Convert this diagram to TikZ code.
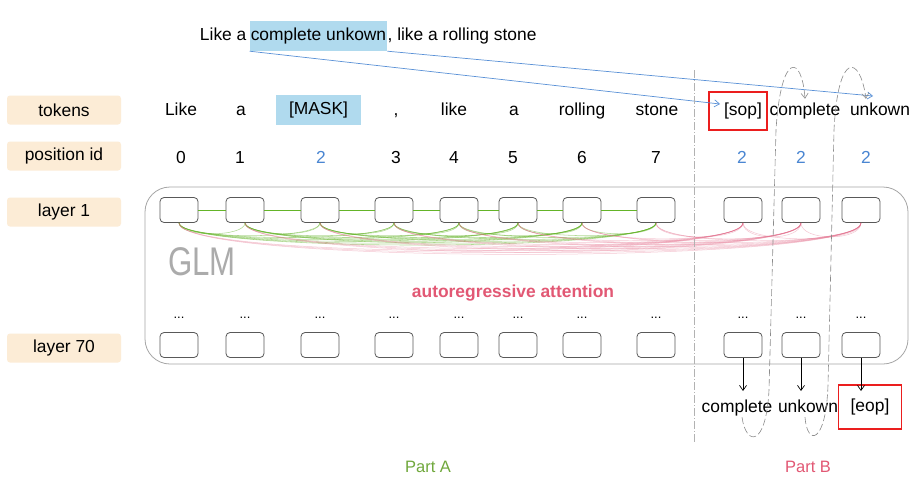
\documentclass[tikz,border=0pt]{standalone}
\usepackage{fontspec}
\setmainfont{Liberation Sans}
\usetikzlibrary{arrows.meta, positioning}

\definecolor{lblfill}{RGB}{252,236,214}
\definecolor{hlblue}{RGB}{176,218,238}
\definecolor{posblue}{RGB}{74,134,210}
\definecolor{redbox}{RGB}{235,30,30}
\definecolor{attgreen}{RGB}{100,180,40}
\definecolor{attpink}{RGB}{228,110,140}
\definecolor{txtpink}{RGB}{226,88,116}
\definecolor{partgreen}{RGB}{112,168,60}
\definecolor{linkblue}{RGB}{90,145,215}

\begin{document}
\begin{tikzpicture}[
        x=1pt, y=-1pt,
        font=\fontsize{17.4}{20}\selectfont,
        lbl/.style={rectangle, rounded corners=3pt, fill=lblfill, minimum width=114pt, minimum height=29pt, inner sep=0pt},
        tok/.style={inner sep=1pt, text height=12.5pt, text depth=3.5pt},
        cell/.style={rectangle, rounded corners=4pt, draw=black!65, line width=0.8pt, fill=white, minimum width=38pt, minimum height=25pt, inner sep=0pt},
        dots/.style={inner sep=0pt, font=\fontsize{13}{13}\selectfont},
        gline/.style={attgreen, line width=1pt},
        gatt/.style={attgreen, line width=0.55pt, opacity=0.5},
        patt/.style={attpink, line width=0.5pt, opacity=0.38},
        link/.style={linkblue, line width=0.7pt, -{Straight Barb[length=5pt, width=7pt]}},
        loopline/.style={black!45, line width=0.6pt, dash pattern=on 7pt off 3pt, -{Straight Barb[length=5pt, width=7pt]}},
        outarrow/.style={black, line width=0.7pt, -{Straight Barb[length=5pt, width=7pt]}}
    ]
        \path[fill=white, use as bounding box] (0,0) rectangle (915,488);

        % Row labels
        \node[lbl] (ltok) at (64,110) {tokens};
        \node[lbl] (lpos) at (64,156) {position id};
        \node[lbl] (lone) at (64,212) {layer 1};
        \node[lbl] (lsev) at (64,348) {layer 70};

        % Sentence on top
        \node[tok, fill=hlblue, inner xsep=1pt, minimum height=30pt] (shl) at (318.5,36) {complete unkown};
        \node[tok, left=2pt of shl] (spre) {Like a};
        \node[tok, right=-1pt of shl] (ssuf) {, like a rolling stone};

        % Tokens
        \foreach \n/\x/\w in {1/181/Like, 2/241/a, 5/454/like, 6/514/a, 7/582/rolling, 8/657/stone, 10/805/complete, 11/880/unkown}
            \node[tok] (t\n) at (\x,111) {\w};
        \node[tok] (t4) at (396,111) {,};
        \node[tok, fill=hlblue, minimum width=85pt, minimum height=30pt] (t3) at (318.5,110) {[MASK]};
        \node[draw=redbox, line width=1.2pt, minimum width=58pt, minimum height=38pt, inner sep=0pt] (sopbox) at (738,111) {};
        \node[tok] (t9) at (743,111) {[sop]};

        % Position ids
        \foreach \n/\x/\v in {1/181/0, 2/240/1, 4/396/3, 5/454/4, 6/513/5, 7/582/6, 8/656/7}
            \node[tok] (p\n) at (\x,159) {\v};
        \foreach \n/\x in {3/321, 9/742, 10/801, 11/866}
            \node[tok, text=posblue] (p\n) at (\x,159) {2};

        % GLM block
        \node[draw=black!35, line width=0.8pt, rounded corners=25pt, minimum width=763pt, minimum height=177pt] (glm) at (526.5,275.5) {};
        \node[text=black!33, font=\fontsize{40}{42}\selectfont] (glmlbl) at (202,262) {\scalebox{0.78}[1]{GLM}};
        \node[text=txtpink, font=\fontsize{17.4}{20}\selectfont\bfseries] (arattn) at (513,293) {autoregressive attention};

        % Layer cells
        \foreach \i/\x in {1/179, 2/245, 3/320, 4/394, 5/459, 6/518, 7/582, 8/656, 9/743, 10/801, 11/861} {
            \node[cell] (a\i) at (\x,210) {};
            \node[cell] (b\i) at (\x,345) {};
            \node[dots] (d\i) at (\x,318) {...};
        }

        % Part A: bidirectional
        \foreach \i [count=\j from 2] in {1,...,7}
            \draw[gline] (a\i) -- (a\j);
        \foreach \i in {1,...,7} {
            \pgfmathtruncatemacro\nxt{\i+1}
            \foreach \j in {\nxt,...,8} {
                \pgfmathsetmacro\dd{12+2.5*(\j-\i)}
                \draw[gatt] (a\i.south) .. controls +(0,\dd) and +(0,\dd) .. (a\j.south);
            }
        }
        % Part B: autoregressive
        \foreach \k in {9,10,11} {
            \pgfmathtruncatemacro\lst{\k-1}
            \foreach \j in {1,...,\lst} {
                \pgfmathsetmacro\dd{16+2.6*(\k-\j)}
                \draw[patt] (a\k.south) .. controls +(0,\dd) and +(0,\dd) .. (a\j.south);
            }
        }

        % Outputs
        \coordinate (outy) at (0,391);
        \node[tok] (oc) at (737,408) {complete};
        \node[tok] (ou) at (808,408) {unkown};
        \node[tok, draw=redbox, line width=1.2pt, minimum width=63pt, minimum height=44pt] (eop) at (870,407) {[eop]};
        \foreach \i in {9,10,11}
            \draw[outarrow] (b\i.south) -- (b\i.south |- outy);

        % Span links and feedback loops
        \coordinate (sopin) at (720,104);
        \coordinate (unkin) at (873,96);
        \draw[link] (shl.south west) -- (sopin);
        \draw[link] (shl.south east) -- (unkin);
        \draw[loopline] ([xshift=5pt]oc.south) .. controls (746,446) and (766,448) .. (769,390) -- (776,130) .. controls (781,50) and (802,55) .. ([yshift=3pt]t10.north);
        \draw[loopline] ([xshift=-3pt]ou.south) .. controls (807,446) and (826,445) .. (828,385) -- (834,130) .. controls (838,50) and (860,55) .. ([xshift=-14pt, yshift=3pt]t11.north);

        % Separator
        \coordinate (septop) at (694,70);
        \coordinate (sepbot) at (694,443);
        \draw[black!30, line width=0.6pt, dash pattern=on 8pt off 2pt on 1pt off 2pt] (septop) -- (sepbot);

        % Parts
        \node[text=partgreen, font=\fontsize{16.5}{18}\selectfont] (parta) at (428,467) {Part A};
        \node[text=txtpink, font=\fontsize{16.5}{18}\selectfont] (partb) at (808,467) {Part B};

    \end{tikzpicture}
\end{document}
